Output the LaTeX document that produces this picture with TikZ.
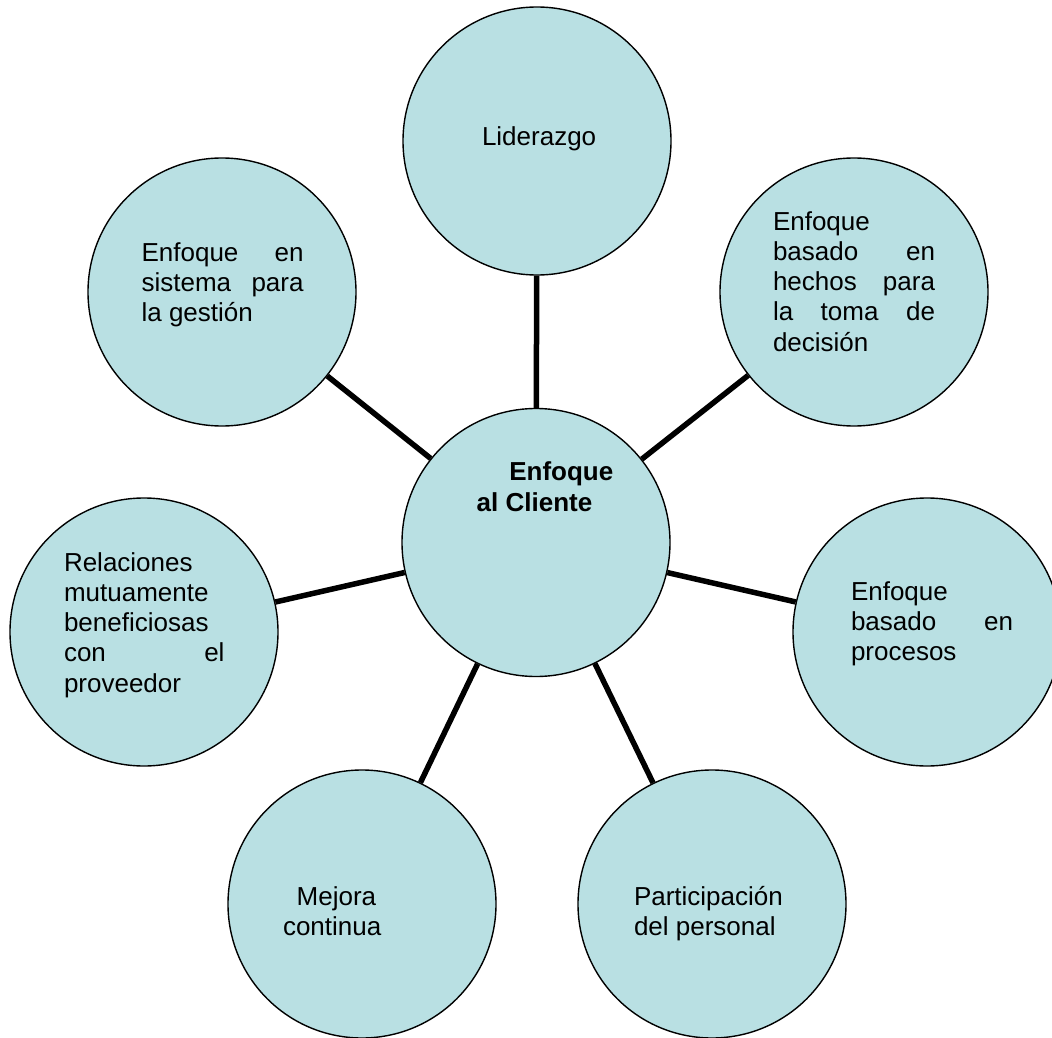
\documentclass[tikz,border=0pt]{standalone}
\usepackage{fontspec}
\setmainfont{Liberation Sans}
\definecolor{bubble}{RGB}{185,224,227}
\tikzset{
  bubble/.style={circle, draw=black, line width=1.4pt, fill=bubble,
    minimum size=268pt, inner sep=0pt},
  spoke/.style={line width=5.5pt, draw=black},
  label/.style={anchor=base west, inner sep=0pt, outer sep=0pt,
    font=\fontsize{26}{30.3}\selectfont},
}
% top-aligned paragraph box: the node's base is the first line's baseline
\newcommand{\textblock}[2]{\parbox[t]{#1}{\raggedright #2}}
\begin{document}
\begin{tikzpicture}[x=1pt, y=-1pt]
  \useasboundingbox (0,0) rectangle (1052,1038);

  % circles
  \node[bubble] (hub) at (536,542.5) {};
  \node[bubble] (lid) at (537,141) {};
  \node[bubble] (sis) at (222,292) {};
  \node[bubble] (hec) at (854,292) {};
  \node[bubble] (rel) at (144,632) {};
  \node[bubble] (pro) at (927,632) {};
  \node[bubble] (mej) at (362,904) {};
  \node[bubble] (par) at (712,904) {};

  % spokes from the hub to every principle
  \foreach \n in {lid,sis,hec,rel,pro,mej,par}
    \draw[spoke] (hub) -- (\n);

  % texts
  \node[label, font=\fontsize{26}{31}\selectfont\bfseries] (thub) at (476.7,480.7)
    {\textblock{160pt}{\hspace*{32.6pt}Enfoque\\al Cliente}};
  \node[label] (tlid) at (482,146) {Liderazgo};
  \node[label] (tsis) at (141.6,261)
    {\textblock{162pt}{Enfoque\hfill en\\sistema\hfill para\\la gestión}};
  \node[label] (thec) at (773,230)
    {\textblock{162pt}{Enfoque\\basado\hfill en\\hechos\hfill para\\la\hfill toma\hfill de\\decisión}};
  \node[label] (trel) at (64,571)
    {\textblock{160.5pt}{Relaciones\\mutuamente\\beneficiosas\\con\hfill el\\proveedor}};
  \node[label] (tpro) at (851,600)
    {\textblock{162pt}{Enfoque\\basado\hfill en\\procesos}};
  \node[label] (tmej) at (283,905)
    {\textblock{120pt}{\hspace*{13.7pt}Mejora\\continua}};
  \node[label] (tpar) at (634,905)
    {\textblock{170pt}{Participación\\del personal}};
\end{tikzpicture}
\end{document}
